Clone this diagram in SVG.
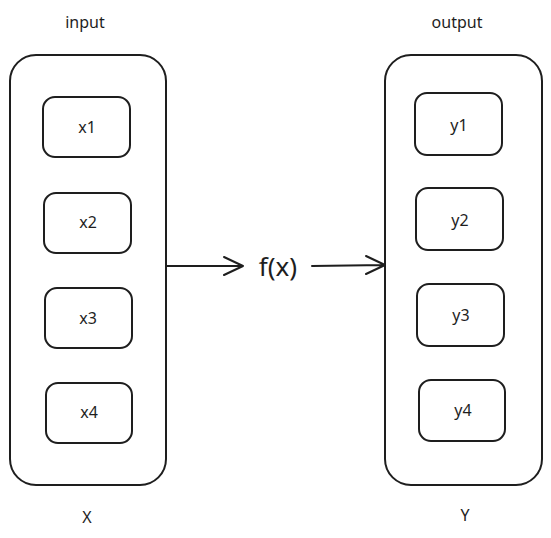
<svg xmlns="http://www.w3.org/2000/svg" width="551" height="538" viewBox="0 0 551 538">
<style>
.box{fill:none;stroke:#1e1e1e;stroke-width:2}
.t{font-family:"Noto Sans","Liberation Sans",sans-serif;fill:#1e1e1e;text-anchor:middle;dominant-baseline:central}
.s{font-size:16px}
.line{stroke:#1e1e1e;stroke-width:2;fill:none;stroke-linecap:round;stroke-linejoin:round}
</style>
<rect width="551" height="538" fill="#ffffff"/>
<g id="input-label"><text class="t s" x="85" y="22">input</text></g>
<g id="output-label"><text class="t s" x="457" y="22">output</text></g>
<g id="X">
<rect class="box" x="10" y="55" width="156" height="430" rx="26"/>
<text class="t s" x="87" y="517">X</text>
</g>
<g id="Y">
<rect class="box" x="385" y="55" width="157" height="430" rx="26"/>
<text class="t s" x="465" y="515">Y</text>
</g>
<g id="x1"><rect class="box" x="43" y="97" width="87" height="60" rx="12"/><text class="t s" x="87" y="127">x1</text></g>
<g id="x2"><rect class="box" x="44" y="193" width="87" height="60" rx="12"/><text class="t s" x="88" y="222">x2</text></g>
<g id="x3"><rect class="box" x="45" y="288" width="87" height="60" rx="12"/><text class="t s" x="88" y="318">x3</text></g>
<g id="x4"><rect class="box" x="46" y="383" width="86" height="60" rx="12"/><text class="t s" x="89" y="412">x4</text></g>
<g id="y1"><rect class="box" x="415" y="93" width="87" height="62" rx="12"/><text class="t s" x="459" y="125">y1</text></g>
<g id="y2"><rect class="box" x="416" y="188" width="87" height="62" rx="12"/><text class="t s" x="460" y="220">y2</text></g>
<g id="y3"><rect class="box" x="417" y="284" width="87" height="62" rx="12"/><text class="t s" x="461" y="315">y3</text></g>
<g id="y4"><rect class="box" x="419" y="380" width="86" height="61" rx="12"/><text class="t s" x="463" y="410">y4</text></g>
<g id="f"><text class="t" x="278" y="266" font-size="26">f(x)</text></g>
<g id="connectors">
<path class="line" d="M166 266 L243 266 M224 257 L243 266 L224 275"/>
<path class="line" d="M312 266 L385 265 M366 256 L385 265 L366 274"/>
</g>
</svg>
